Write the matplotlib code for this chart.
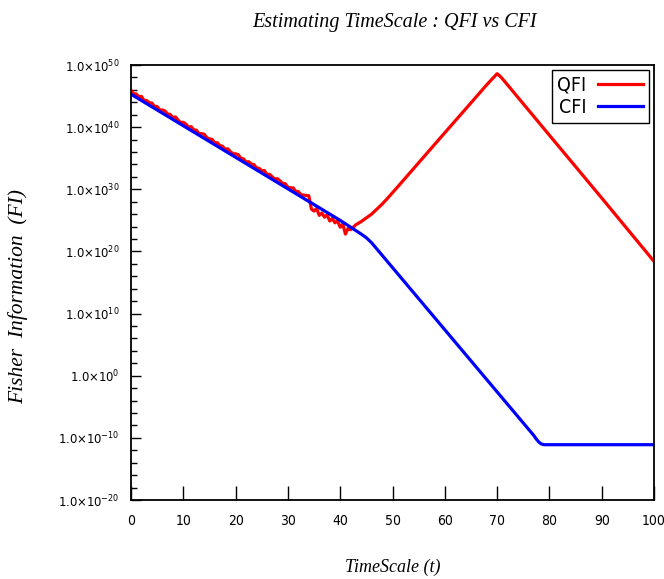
import numpy as np
import matplotlib
matplotlib.use("Agg")
import matplotlib.pyplot as plt
from matplotlib.ticker import FixedLocator, FuncFormatter
from matplotlib.font_manager import FontProperties

# ---- data (log10 of Fisher information) ----
qfi_t = [0, 0.5, 1, 1.5, 2, 2.5, 3, 3.5, 4, 4.5, 5, 5.5, 6, 6.5, 7, 7.5, 8, 8.5, 9, 9.5,
         10, 10.5, 11, 11.5, 12, 12.5, 13, 13.5, 14, 14.5, 15, 15.5, 16, 16.5, 17, 17.5,
         18, 18.5, 19, 19.5, 20, 20.5, 21, 21.5, 22, 22.5, 23, 23.5, 24, 24.5, 25, 25.5,
         26, 26.5, 27, 27.5, 28, 28.5, 29, 29.5, 30, 30.5, 31, 31.5, 32, 32.5, 33, 33.5, 34,
         34.5, 35, 35.5, 36, 36.5, 37, 37.5, 38, 38.5, 39, 39.5, 40, 40.5, 41, 41.5, 42, 42.5,
         43, 44, 45, 46, 47, 48, 49, 50, 51, 54, 60, 65, 68, 69, 69.5, 70, 70.5, 71, 72,
         80, 90, 100]
qfi_log = [45.9, 45.35, 45.34, 44.89, 44.94, 44.28, 44.28, 43.93, 43.87, 43.32, 43.32,
           42.76, 42.76, 42.6, 42.1, 42.05, 41.54, 41.64, 41.14, 40.73, 40.78, 40.48,
           40.02, 40.07, 39.57, 39.51, 38.96, 38.96, 38.85, 38.3, 38.1, 38.04, 37.49,
           37.49, 37.03, 36.93, 36.42, 36.52, 36.07, 35.71, 35.71, 35.56, 35.0, 34.9,
           34.4, 34.44, 34.04, 33.98, 33.43, 33.38, 32.97, 33.02, 32.37, 32.41, 32.01,
           31.66, 31.7, 31.35, 30.95, 30.89, 30.34, 30.24, 30.23, 29.68, 29.63, 29.12,
           29.07, 29.01, 28.96,
           26.8, 26.5, 26.9, 25.8, 26.2, 25.5, 25.9, 24.9, 25.3, 24.6, 24.9, 23.9, 24.4,
           22.8, 23.7, 23.5, 23.9,
           24.3, 24.8, 25.4, 26.0, 26.8, 27.6, 28.5, 29.45, 30.4, 33.3, 39.1, 43.9, 46.8,
           47.7, 48.15, 48.6, 48.25, 47.8, 46.8, 38.7, 28.6, 18.4]

cfi_t = [0, 40, 44, 45, 46, 47, 48, 50, 60, 70, 77, 77.5, 78, 78.5, 79, 100]
cfi_log = [45.3, 25.0, 22.8, 22.2, 21.4, 20.4, 19.4, 17.4, 7.4, -2.6, -9.6, -10.2, -10.7,
           -11.0, -11.1, -11.1]

x_ticks = [0, 10, 20, 30, 40, 50, 60, 70, 80, 90, 100]
y_major_exp = [-20, -10, 0, 10, 20, 30, 40, 50]

plt.rcParams['mathtext.fontset'] = 'custom'
plt.rcParams['mathtext.rm'] = 'DejaVu Sans:stretch=condensed'
plt.rcParams['mathtext.it'] = 'DejaVu Sans:stretch=condensed'
ytick_font = FontProperties(family='DejaVu Sans', stretch='condensed', size=9.3)
xtick_font = FontProperties(family='DejaVu Sans', stretch='condensed', size=10)
serif = ['Liberation Serif', 'DejaVu Serif']

fig = plt.figure(figsize=(6.64, 5.79), dpi=100)
ax = fig.add_axes([131 / 664, 1 - 500 / 579, (654 - 131) / 664, 435 / 579])

ax.plot(qfi_t, 10.0 ** np.array(qfi_log), color='#ff0000', lw=2.3, label='QFI',
        solid_joinstyle='round')
ax.plot(cfi_t, 10.0 ** np.array(cfi_log), color='#0000ff', lw=2.3, label='CFI',
        solid_joinstyle='round')

ax.set_yscale('log')
ax.set_xlim(0, 100)
ax.set_ylim(1e-20, 1e50)

ax.yaxis.set_major_locator(FixedLocator([10.0 ** e for e in y_major_exp]))
minor = [10.0 ** e for e in range(-20, 51, 2) if e % 10 != 0]
ax.yaxis.set_minor_locator(FixedLocator(minor))
ax.yaxis.set_minor_formatter(FuncFormatter(lambda v, p: ''))
ax.yaxis.set_major_formatter(FuncFormatter(
    lambda v, p: '1.0\u00d710$^{%d}$' % int(round(np.log10(v)))))
ax.set_xticks(x_ticks)
ax.set_xticklabels([str(t) for t in x_ticks])

ax.tick_params(axis='y', which='major', direction='in', length=7, width=1, pad=8,
               right=False)
ax.tick_params(axis='y', which='minor', direction='in', length=4, width=1, right=False)
ax.tick_params(axis='x', which='major', direction='in', length=10, width=1, pad=10,
               top=False)
for lab in ax.get_yticklabels():
    lab.set_fontproperties(ytick_font)
for lab in ax.get_xticklabels():
    lab.set_fontproperties(xtick_font)
for s in ax.spines.values():
    s.set_linewidth(1.3)

leg = ax.legend(loc='upper right', bbox_to_anchor=(0.990, 0.9885), markerfirst=False,
                handlelength=2.3, fancybox=False, framealpha=1, edgecolor='black',
                prop=FontProperties(family='DejaVu Sans', stretch='condensed', size=14),
                borderpad=0.3, labelspacing=0.15, handletextpad=0.6, borderaxespad=0)
leg.get_frame().set_linewidth(1.0)

fig.text(395 / 664, 1 - 22 / 579, 'Estimating TimeScale : QFI vs CFI', ha='center',
         va='center', family=serif, style='italic', fontsize=14.5)
fig.text(393 / 664, 1 - 567 / 579, 'TimeScale (t)', ha='center', va='center',
         family=serif, style='italic', fontsize=13)
fig.text(18 / 664, 1 - 297 / 579, 'Fisher  Information  (FI)', ha='center', va='center',
         family=serif, style='italic', fontsize=15.5, rotation=90)

fig.savefig('out.png', dpi=100)
